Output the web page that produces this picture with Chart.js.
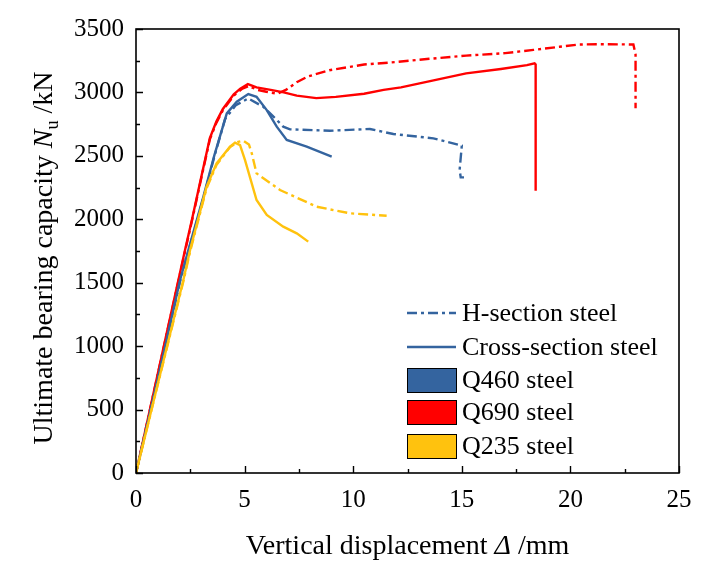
<!DOCTYPE html>
<html>
<head>
<meta charset="utf-8">
<script src="https://cdn.jsdelivr.net/npm/chart.js@4.4.1/dist/chart.umd.min.js"></script>
<style>
html, body { margin: 0; padding: 0; background: #fff; }
</style>
</head>
<body>
<canvas id="chart" width="710" height="570"></canvas>
<script>
// Q690 steel
const q690CrossX = [0, 1.23, 2.26, 2.58, 3.0, 3.4, 3.7, 4.0, 4.5, 4.8, 5.15, 5.55, 6.2, 6.8, 7.4, 8.3, 9.2, 10.5, 11.4, 12.2, 13.7, 15.2, 16.8, 18.0, 18.35, 18.4, 18.4];
const q690CrossY = [0, 960, 1760, 2000, 2330, 2640, 2770, 2870, 2985, 3030, 3065, 3040, 3020, 3000, 2975, 2955, 2965, 2990, 3020, 3040, 3095, 3150, 3185, 3215, 3230, 3220, 2225];
const q690HX = [0, 1.23, 2.26, 2.58, 3.0, 3.4, 3.7, 4.0, 4.5, 4.9, 5.2, 5.6, 6.0, 6.5, 6.9, 7.4, 7.9, 8.9, 10.5, 12.0, 13.5, 15.2, 17.0, 18.3, 19.5, 20.4, 21.5, 22.9, 23.0, 23.0];
const q690HY = [0, 955, 1750, 1990, 2320, 2630, 2760, 2860, 2975, 3030, 3050, 3020, 3005, 2990, 3020, 3080, 3125, 3175, 3220, 3240, 3265, 3290, 3310, 3335, 3360, 3378, 3380, 3378, 3300, 2875];

// Q460 steel
const q460CrossX = [0, 1.0, 2.03, 2.41, 3.1, 3.6, 4.18, 4.64, 5.17, 5.55, 6.02, 6.48, 6.94, 7.86, 9.01];
const q460CrossY = [0, 740, 1521, 1758, 2178, 2500, 2835, 2927, 2987, 2966, 2861, 2730, 2625, 2572, 2494];
const q460HX = [0, 1.0, 2.03, 2.41, 3.1, 3.6, 4.1, 4.6, 5.17, 5.86, 6.48, 6.78, 7.09, 8.93, 10.77, 11.85, 13.69, 15.0, 14.9, 14.95, 15.1];
const q460HY = [0, 735, 1510, 1745, 2165, 2490, 2790, 2900, 2953, 2887, 2783, 2730, 2709, 2698, 2712, 2672, 2638, 2580, 2390, 2330, 2330];

// Q235 steel
const q235CrossX = [0, 1.0, 2.18, 2.49, 3.25, 3.71, 4.33, 4.56, 4.79, 5.02, 5.55, 6.02, 6.78, 7.4, 7.93];
const q235CrossY = [0, 700, 1521, 1758, 2257, 2441, 2572, 2604, 2585, 2467, 2152, 2034, 1942, 1889, 1824];
const q235HX = [0, 1.0, 2.18, 2.49, 3.25, 3.71, 4.33, 4.7, 4.94, 5.2, 5.33, 5.55, 6.63, 8.32, 9.85, 11.54];
const q235HY = [0, 695, 1510, 1745, 2245, 2430, 2570, 2610, 2620, 2590, 2520, 2362, 2231, 2099, 2047, 2028];

const xMajorTicks = [0, 5, 10, 15, 20, 25];
const yMajorTicks = [0, 500, 1000, 1500, 2000, 2500, 3000, 3500];
const legendLabels = ["H-section steel", "Cross-section steel", "Q460 steel", "Q690 steel", "Q235 steel"];

const BLUE = "#34649f";
const RED = "#ff0000";
const YELLOW = "#ffc20e";
const DASH_DOT = [10, 4, 3, 4];
const FONT = '"Liberation Serif", "Times New Roman", serif';

function toPoints(xs, ys){
    return xs.map((x, i) => ({x: x, y: ys[i]}));
}

function series(xs, ys, color, dashed){
    return {
        data: toPoints(xs, ys),
        showLine: true,
        borderColor: color,
        borderWidth: 2.4,
        borderDash: dashed ? DASH_DOT : [],
        pointRadius: 0,
        tension: 0,
        fill: false
    };
}

// Frame and inward ticks
const frameAndTicks = {
    id: "frameAndTicks",
    afterDatasetsDraw(chart){
        const {ctx, chartArea: a, scales: {x, y}} = chart;
        ctx.save();
        ctx.strokeStyle = "#000";
        ctx.lineWidth = 1.6;
        ctx.strokeRect(a.left, a.top, a.right - a.left, a.bottom - a.top);
        ctx.lineWidth = 1.4;
        ctx.beginPath();
        x.ticks.forEach(t => {
            const px = Math.round(x.getPixelForValue(t.value)) + 0.5;
            const len = xMajorTicks.includes(t.value) ? 7 : 4;
            ctx.moveTo(px, a.bottom);
            ctx.lineTo(px, a.bottom - len);
        });
        y.ticks.forEach(t => {
            const py = Math.round(y.getPixelForValue(t.value)) + 0.5;
            const len = yMajorTicks.includes(t.value) ? 7 : 4;
            ctx.moveTo(a.left, py);
            ctx.lineTo(a.left + len, py);
        });
        ctx.stroke();
        ctx.restore();
    }
};

// Legend with line samples and colour boxes
const customLegend = {
    id: "customLegend",
    afterDraw(chart){
        const ctx = chart.ctx;
        const left = 407, sampleW = 49, textX = 462;
        const rows = [313, 347, 380, 412, 446];
        ctx.save();
        ctx.font = "26px " + FONT;
        ctx.fillStyle = "#000";
        ctx.textBaseline = "middle";

        ctx.strokeStyle = BLUE;
        ctx.lineWidth = 2.4;
        ctx.setLineDash(DASH_DOT);
        ctx.beginPath();
        ctx.moveTo(left, rows[0]);
        ctx.lineTo(left + sampleW, rows[0]);
        ctx.stroke();
        ctx.setLineDash([]);
        ctx.beginPath();
        ctx.moveTo(left, rows[1]);
        ctx.lineTo(left + sampleW, rows[1]);
        ctx.stroke();

        [BLUE, RED, YELLOW].forEach((c, i) => {
            const cy = rows[i + 2];
            ctx.fillStyle = c;
            ctx.fillRect(left, cy - 12, sampleW, 24);
            ctx.strokeStyle = "#000";
            ctx.lineWidth = 1;
            ctx.strokeRect(left + 0.5, cy - 12 + 0.5, sampleW, 24);
        });

        ctx.fillStyle = "#000";
        legendLabels.forEach((label, i) => {
            ctx.fillText(label, textX, rows[i] + 1);
        });
        ctx.restore();
    }
};

// Axis titles with italic symbols
const axisTitles = {
    id: "axisTitles",
    afterDraw(chart){
        const {ctx, chartArea: a} = chart;
        ctx.save();
        ctx.fillStyle = "#000";
        ctx.textBaseline = "alphabetic";

        // x title
        const xParts = [
            {t: "Vertical displacement ", f: "28px " + FONT},
            {t: "\u0394", f: "italic 28px " + FONT},
            {t: " /mm", f: "28px " + FONT}
        ];
        let w = 0;
        xParts.forEach(p => { ctx.font = p.f; w += ctx.measureText(p.t).width; });
        let cx = (a.left + a.right) / 2 - w / 2;
        xParts.forEach(p => {
            ctx.font = p.f;
            ctx.fillText(p.t, cx, 554);
            cx += ctx.measureText(p.t).width;
        });

        // y title
        const yParts = [
            {t: "Ultimate bearing capacity ", f: "28px " + FONT, dy: 0},
            {t: "N", f: "italic 28px " + FONT, dy: 0},
            {t: "u", f: "18px " + FONT, dy: 6},
            {t: " /kN", f: "28px " + FONT, dy: 0}
        ];
        w = 0;
        yParts.forEach(p => { ctx.font = p.f; w += ctx.measureText(p.t).width; });
        ctx.translate(52, 258);
        ctx.rotate(-Math.PI / 2);
        cx = -w / 2;
        yParts.forEach(p => {
            ctx.font = p.f;
            ctx.fillText(p.t, cx, p.dy);
            cx += ctx.measureText(p.t).width;
        });
        ctx.restore();
    }
};

new Chart(document.getElementById("chart"), {
    type: "scatter",
    data: {
        datasets: [
            series(q235HX, q235HY, YELLOW, true),
            series(q235CrossX, q235CrossY, YELLOW, false),
            series(q460HX, q460HY, BLUE, true),
            series(q460CrossX, q460CrossY, BLUE, false),
            series(q690HX, q690HY, RED, true),
            series(q690CrossX, q690CrossY, RED, false)
        ]
    },
    options: {
        responsive: false,
        animation: false,
        devicePixelRatio: 1,
        layout: {padding: {top: 29, right: 31, left: 0, bottom: 0}},
        plugins: {
            legend: {display: false},
            tooltip: {enabled: false}
        },
        scales: {
            x: {
                type: "linear",
                min: 0,
                max: 25,
                border: {display: false},
                grid: {display: false, drawTicks: false},
                ticks: {
                    stepSize: 2.5,
                    padding: 12,
                    maxRotation: 0,
                    autoSkip: false,
                    color: "#000",
                    font: {family: FONT, size: 25},
                    callback: v => xMajorTicks.includes(v) ? v : ""
                },
                afterFit: s => { s.height = 97; }
            },
            y: {
                type: "linear",
                min: 0,
                max: 3500,
                border: {display: false},
                grid: {display: false, drawTicks: false},
                ticks: {
                    stepSize: 250,
                    padding: 12,
                    autoSkip: false,
                    color: "#000",
                    font: {family: FONT, size: 25},
                    callback: v => yMajorTicks.includes(v) ? v : ""
                },
                afterFit: s => { s.width = 136; }
            }
        }
    },
    plugins: [frameAndTicks, customLegend, axisTitles]
});
</script>
</body>
</html>
